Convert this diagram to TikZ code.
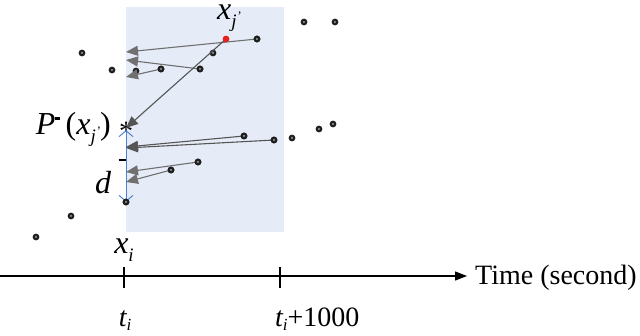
\documentclass[tikz,border=0pt]{standalone}
\usepackage{fontspec}
\setmainfont{Liberation Serif}
\usetikzlibrary{arrows.meta}
\definecolor{winblue}{RGB}{229,236,247}
\definecolor{arrgray}{RGB}{112,112,112}
\definecolor{darkgray2}{RGB}{85,85,85}
\definecolor{dblue}{RGB}{80,130,210}
\definecolor{reddot}{RGB}{235,30,30}
\tikzset{
  dotpt/.style={circle,inner sep=0pt,minimum size=6.8pt,fill=black!88,
    path picture={\fill[gray!55] (path picture bounding box.center) circle (1.1pt);
                  \fill[black] (path picture bounding box.center) circle (0.5pt);}},
  reddotpt/.style={circle,inner sep=0pt,minimum size=6.5pt,fill=reddot},
  grayarrow/.style={draw=arrgray,line width=1.1pt,-{Triangle[length=12pt,width=10pt]}},
  darkarrow/.style={draw=darkgray2,line width=1.1pt,-{Triangle[length=12pt,width=10pt]}},
  lbl/.style={inner sep=0pt,font=\fontsize{28}{30}\selectfont},
  mlbl/.style={inner sep=0pt,font=\fontsize{32}{34}\selectfont}
}
\newcommand{\subjp}{\raisebox{-0.28em}{\fontsize{19}{20}\selectfont\itshape j\raisebox{0.4em}{\fontsize{13}{13}\selectfont ’}}}
\begin{document}
\begin{tikzpicture}[x=1pt,y=-1pt]
\useasboundingbox (0,0) rectangle (640,335);
% window
\fill[winblue] (126,7) rectangle (284,232);
% dots
\node[dotpt] (d1) at (304,22) {};
\node[dotpt] (d2) at (335,22) {};
\node[dotpt] (d3) at (257,39) {};
\node[dotpt] (d4) at (213,53) {};
\node[dotpt] (d5) at (82,53) {};
\node[dotpt] (d6) at (112,70) {};
\node[dotpt] (d7) at (136,71) {};
\node[dotpt] (d8) at (161,69) {};
\node[dotpt] (d9) at (200,69) {};
\node[dotpt] (d10) at (244,136) {};
\node[dotpt] (d11) at (274,140) {};
\node[dotpt] (d12) at (292,138) {};
\node[dotpt] (d13) at (319,129) {};
\node[dotpt] (d14) at (333,124) {};
\node[dotpt] (d15) at (198,162) {};
\node[dotpt] (d16) at (171,170) {};
\node[dotpt] (xi) at (126,202) {};
\node[dotpt] (d17) at (71,216) {};
\node[dotpt] (d18) at (36,237) {};
\node[reddotpt] (xj) at (226,39) {};
% asterisk P-
\node[inner sep=0pt,font=\fontsize{28}{28}\selectfont] (pstar) at (126,131) {*};
% arrow tips
\coordinate (t1) at (126,52);
\coordinate (t2) at (126,60);
\coordinate (t3) at (126,77);
\coordinate (t4) at (126,128);
\coordinate (t5) at (126,147);
\coordinate (t6) at (126,148);
\coordinate (t7) at (126,172);
\coordinate (t8) at (126,182);
\coordinate (bt) at (126,130);
\coordinate (bb) at (126,202);
% blue distance arrow
\draw[dblue,line width=1pt,{Straight Barb[length=6pt,width=14pt]}-{Straight Barb[length=6pt,width=14pt]}] (bt) -- (bb);
% gray arrows
\draw[grayarrow] (d3.center) -- (t1);
\draw[grayarrow] (d9.center) -- (t2);
\draw[grayarrow] (d8.center) -- (t3);
\draw[darkarrow] (xj.center) -- (t4);
\draw[darkarrow] (d10.center) -- (t5);
\draw[darkarrow] (d11.center) -- (t6);
\draw[grayarrow] (d15.center) -- (t7);
\draw[grayarrow] (d16.center) -- (t8);
% redraw dots on top of arrow tails
\foreach \n in {d3,d8,d9,d10,d11,d15,d16,xi}{\node[dotpt] at (\n) {};}
\node[reddotpt] at (xj) {};
% labels
\node[mlbl,anchor=base] (lxj) at (229,19) {\itshape x\subjp};
\node[mlbl,anchor=base east] (lp) at (111,134) {{\itshape P}\raisebox{0.45em}{\rule{5pt}{2.2pt}}\,({\itshape x}\subjp)};
\node[mlbl,anchor=base] (ld) at (103,193) {\itshape d};
\node[inner sep=0pt] (ldm) at (122,160) {\rule{7pt}{2.4pt}};
\node[mlbl,anchor=base] (lxi) at (124,253) {{\itshape x}\raisebox{-0.28em}{\fontsize{19}{20}\selectfont\itshape i}};
% time axis
\coordinate (ax0) at (0,276);
\coordinate (ax1) at (467,276);
\draw[black,line width=1.3pt,-{Triangle[length=12pt,width=9pt]}] (ax0) -- (ax1);
\coordinate (k1a) at (124,267); \coordinate (k1b) at (124,288);
\coordinate (k2a) at (280,267); \coordinate (k2b) at (280,288);
\draw[line width=2pt] (k1a) -- (k1b);
\draw[line width=2pt] (k2a) -- (k2b);
\node[lbl,anchor=base west] (ltime) at (475,284) {Time (second)};
\node[lbl,anchor=base] (lti) at (125,326) {{\itshape t}\raisebox{-0.15em}{\fontsize{17}{18}\selectfont\itshape i}};
\node[lbl,anchor=base west] (lti2) at (275,326) {{\itshape t}\raisebox{-0.15em}{\fontsize{17}{18}\selectfont\itshape i}+1000};
\end{tikzpicture}
\end{document}
